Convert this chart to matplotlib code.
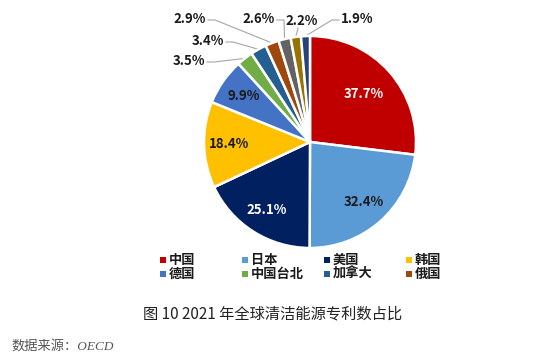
import numpy as np
import matplotlib
matplotlib.use('Agg')
import matplotlib.pyplot as plt

plt.rcParams['font.family'] = ['Noto Sans CJK SC', 'DejaVu Sans']

# data (shares as printed on the chart, clockwise from 12 o'clock)
shares = [37.7, 32.4, 25.1, 18.4, 9.9, 3.5, 3.4, 2.9, 2.6, 2.2, 1.9]
names = ['中国', '日本', '美国', '韩国', '德国', '中国台北', '加拿大', '俄国', '', '', '']
colors = ['#C00000', '#5B9BD5', '#002060', '#FFC000', '#4472C4', '#70AD47',
          '#255E91', '#9E480E', '#636363', '#997300', '#264478']
label_colors = ['white', '#1a1a1a', 'white', '#1a1a1a', '#1a1a1a']

W, H = 548, 359
CX, CY, R = 310, 142, 106

fig = plt.figure(figsize=(W / 100, H / 100), dpi=100)
ax = fig.add_axes([(CX - R) / W, (H - CY - R) / H, 2 * R / W, 2 * R / H])


def px(x, y):
    # reference pixel -> pie axes data coords
    return (x - CX) / R, (CY - y) / R


wedges, _ = ax.pie(shares, colors=colors, startangle=90, counterclock=False,
                   radius=1.0, wedgeprops=dict(edgecolor='white', linewidth=1.8))
ax.set_xlim(-1, 1)
ax.set_ylim(-1, 1)
ax.set_aspect('auto')
ax.axis('off')

# inside labels for the big slices
for i, w in enumerate(wedges[:5]):
    mid = np.deg2rad((w.theta1 + w.theta2) / 2)
    r = 0.68 if i == 0 else 0.76
    ax.text(r * np.cos(mid), r * np.sin(mid), f'{shares[i]}%', ha='center', va='center',
            fontsize=9.5, fontweight='bold', color=label_colors[i])

# outside labels with leader lines (text center in reference pixels, side the line leaves from)
out_pos = [(189, 61, 'r'), (208, 41, 'r'), (190, 19, 'r'), (259, 19, 'r'), (302, 21, 'b'), (357, 19, 'l')]
for (tx, ty, side), w, v in zip(out_pos, wedges[5:], shares[5:]):
    ax.text(*px(tx, ty), f'{v}%', ha='center', va='center', fontsize=9.5,
            fontweight='bold', color='#1a1a1a')
    mid = np.deg2rad((w.theta1 + w.theta2) / 2)
    ex, ey = np.cos(mid), np.sin(mid)
    if side == 'r':
        p0 = px(tx + 18, ty + 1)
        p1 = px(tx + 25, ty + 1)
    elif side == 'l':
        p0 = px(tx - 18, ty + 1)
        p1 = px(tx - 25, ty + 1)
    else:
        p0 = px(tx - 4, ty + 7)
        p1 = px(tx - 4, ty + 7)
    ax.plot([p0[0], p1[0], ex], [p0[1], p1[1], ey], color='#a6a6a6', lw=0.8,
            clip_on=False, zorder=0)

# legend drawn as two rows of four
ov = fig.add_axes([0, 0, 1, 1])
ov.set_xlim(0, W)
ov.set_ylim(H, 0)
ov.axis('off')
col_x = [163, 245, 327, 409]
row_y = [260, 274]
for k in range(8):
    r, c = divmod(k, 4)
    ov.scatter(col_x[c], row_y[r], marker='s', s=14, color=colors[k], linewidths=0)
    ov.text(col_x[c] + 6, row_y[r], names[k], ha='left', va='center',
            fontsize=9.5, fontweight='bold', color='#1a1a1a')

ov.text(273, 314, '图 10 2021 年全球清洁能源专利数占比', ha='center', va='center',
        fontsize=11, color='#222222')
ov.text(11, 346, '数据来源：OECD', ha='left', va='center', fontsize=9.5,
        style='italic', color='#555555',
        family=['Liberation Serif', 'Noto Sans CJK SC'])

fig.savefig('out.png', dpi=100, facecolor='white')
